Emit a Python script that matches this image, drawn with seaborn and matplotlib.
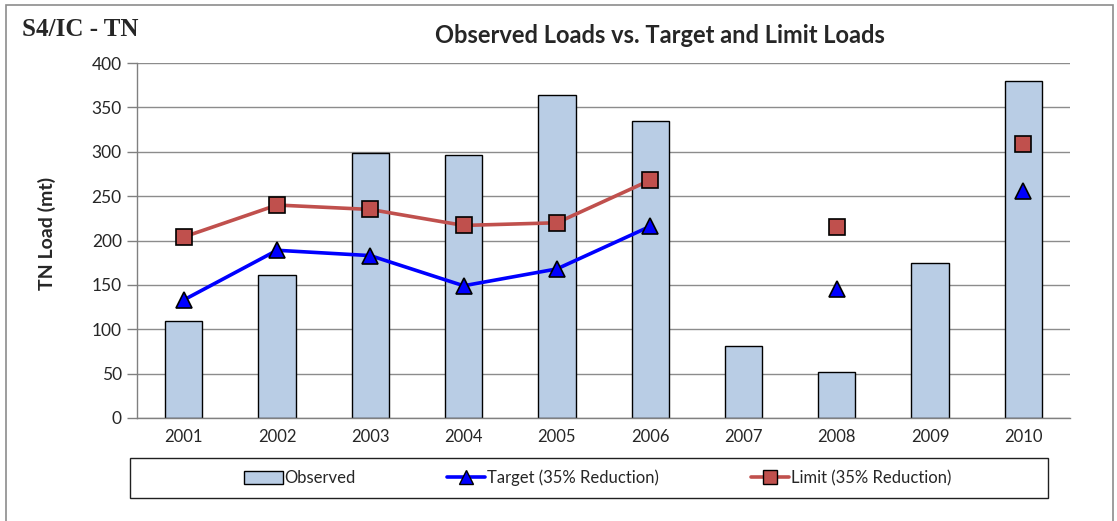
import numpy as np
import pandas as pd
import matplotlib
matplotlib.use("Agg")
import matplotlib.pyplot as plt
from matplotlib.patches import Rectangle, Patch
from matplotlib.lines import Line2D
import seaborn as sns

years = ["2001", "2002", "2003", "2004", "2005", "2006", "2007", "2008", "2009", "2010"]
observed = [109, 161, 299, 296, 364, 335, 81, 52, 175, 380]
target = [133, 189, 183, 149, 168, 216, np.nan, 145, np.nan, 256]
limit = [204, 240, 235, 217, 220, 268, np.nan, 215, np.nan, 309]
yticks = [0, 50, 100, 150, 200, 250, 300, 350, 400]

sns.set_theme(style="white")
plt.rcParams["font.family"] = ["Lato", "DejaVu Sans"]

df = pd.DataFrame({"year": years, "observed": observed, "target": target, "limit": limit})
df["pos"] = np.arange(len(years))

fig = plt.figure(figsize=(11.17, 5.21), dpi=100)
ax = fig.add_axes([0.1227, 0.1977, 0.958 - 0.1227, 0.879 - 0.1977])

sns.barplot(data=df, x="year", y="observed", color="#b9cde5", saturation=1,
            edgecolor="black", linewidth=1.0, width=0.4, ax=ax, zorder=2)

for col, color, marker in [("target", "#0000ff", "^"), ("limit", "#c0504d", "s")]:
    sub = df[["pos", col]].copy()
    sub["seg"] = sub[col].isna().cumsum()
    sub = sub.dropna()
    sns.lineplot(data=sub, x="pos", y=col, units="seg", estimator=None,
                 color=color, linewidth=2.6, marker=marker, markersize=11.5,
                 markeredgecolor="black", markeredgewidth=1.2, markerfacecolor=color,
                 ax=ax, zorder=4, legend=False)

ax.set_xlim(-0.5, len(years) - 0.5)
ax.set_ylim(0, 400)
ax.set_yticks(yticks)
ax.set_yticklabels([str(v) for v in yticks], fontsize=12.5)
ax.set_xticks(np.arange(len(years)))
ax.set_xticklabels(years, fontsize=12)
ax.set_xticks(np.arange(-0.5, len(years), 1.0), minor=True)
ax.tick_params(axis="x", which="major", length=0, pad=8)
ax.tick_params(axis="x", which="minor", length=7, color="#808080", width=1, direction="out")
ax.tick_params(axis="y", which="major", length=7, color="#808080", width=1, direction="out", pad=4, left=True)
ax.grid(axis="y", color="#8c8c8c", linewidth=1.0, zorder=0)
ax.set_axisbelow(True)
for s in ["top", "right"]:
    ax.spines[s].set_visible(False)
for s in ["left", "bottom"]:
    ax.spines[s].set_color("#808080")
    ax.spines[s].set_linewidth(1.0)
ax.set_xlabel("")
ax.set_ylabel("TN Load (mt)", fontsize=14, fontweight="bold")
ax.yaxis.set_label_coords(-0.087, 0.52)

fig.text(0.591, 0.932, "Observed Loads vs. Target and Limit Loads", ha="center", va="center",
         fontsize=17, fontweight="bold")
fig.text(0.02, 0.943, "S4/IC - TN", ha="left", va="center", fontsize=18, fontweight="bold",
         family=["Liberation Serif", "DejaVu Serif"])

# outer border
fig.patches.append(Rectangle((0.005, -0.01), 0.991, 1.0, transform=fig.transFigure,
                             fill=False, edgecolor="#8c8c8c", linewidth=1.2))
# legend box
fig.patches.append(Rectangle((0.1164, 0.044), 0.938 - 0.1164, 0.121 - 0.044, transform=fig.transFigure,
                             fill=False, edgecolor="#202020", linewidth=1.0))
handles = [
    Patch(facecolor="#b9cde5", edgecolor="black", linewidth=1.0),
    Line2D([0], [0], color="#0000ff", lw=2.6, marker="^", markersize=10,
           markeredgecolor="black", markerfacecolor="#0000ff"),
    Line2D([0], [0], color="#c0504d", lw=2.6, marker="s", markersize=10,
           markeredgecolor="black", markerfacecolor="#c0504d"),
]
labels = ["Observed", "Target (35% Reduction)", "Limit (35% Reduction)"]
fig.legend(handles, labels, loc="center", bbox_to_anchor=(0.535, 0.0825), ncol=3, frameon=False,
           fontsize=12, handlelength=2.3, handletextpad=0.1, columnspacing=5.5, handleheight=0.8)

fig.savefig("out.png", dpi=100)
